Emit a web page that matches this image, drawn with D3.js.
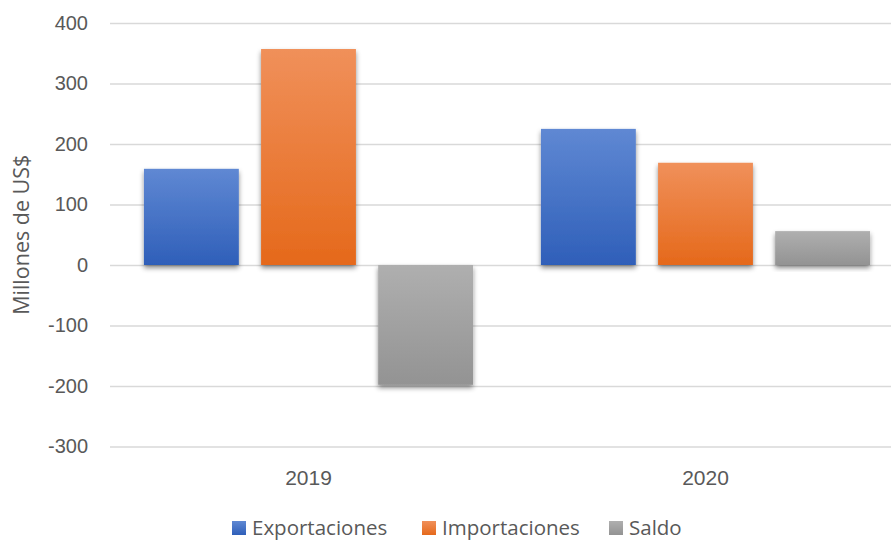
<!DOCTYPE html>
<html>
<head>
<meta charset="utf-8">
<script src="https://cdn.jsdelivr.net/npm/d3@7"></script>
<style>
  body { margin: 0; background: #fff; }
  svg { font-family: "Open Sans", sans-serif; }
</style>
</head>
<body>
<svg id="chart" width="891" height="540"></svg>
<script>
// data
const years = ['2019', '2020'];
const series = ['Exportaciones', 'Importaciones', 'Saldo'];
const exportaciones = [159, 225];
const importaciones = [357, 169];
const saldo = [-198, 56];
const yTicks = [-300, -200, -100, 0, 100, 200, 300, 400];

const values = [exportaciones, importaciones, saldo];
const data = years.map((y, i) => ({year: y, vals: series.map((s, j) => ({key: s, value: values[j][i]}))}));

let margin = {top: 23, left: 110};
let width = 794;
let height = 423.5;

const svg = d3.select('#chart');

// gradients + shadow
const defs = svg.append('defs');
const grads = [
  {id: 'g0', top: '#5f88d3', bottom: '#2f5fb9'},
  {id: 'g1', top: '#f0905a', bottom: '#e5691b'},
  {id: 'g2', top: '#afafaf', bottom: '#939393'}
];
grads.forEach(g => {
  let lg = defs.append('linearGradient').attr('id', g.id)
    .attr('x1', 0).attr('y1', 0).attr('x2', 0).attr('y2', 1);
  lg.append('stop').attr('offset', '0%').attr('stop-color', g.top);
  lg.append('stop').attr('offset', '100%').attr('stop-color', g.bottom);
});
defs.append('filter').attr('id', 'shadow')
  .attr('x', '-20%').attr('y', '-20%').attr('width', '140%').attr('height', '140%')
  .append('feDropShadow')
  .attr('dx', 0).attr('dy', 3).attr('stdDeviation', 2.5)
  .attr('flood-color', '#000').attr('flood-opacity', 0.45);

let chart = svg.append('g')
  .attr('transform', `translate(${margin.left}, ${margin.top})`);

let x0 = d3.scaleBand().domain(years).range([0, width]);
let x1 = d3.scaleBand().domain(series).range([0, x0.bandwidth()])
  .paddingInner(0.19).paddingOuter(0.29);
let y = d3.scaleLinear().domain([-300, 400]).range([height, 0]);
let color = d3.scaleOrdinal().domain(series).range(['url(#g0)', 'url(#g1)', 'url(#g2)']);

// gridlines
let yAxis = d3.axisLeft(y).tickValues(yTicks).tickFormat(d => String(d))
  .tickSize(-width).tickPadding(22);
let yG = chart.append('g').call(yAxis);
yG.select('.domain').remove();
yG.selectAll('.tick line').attr('stroke', '#d9d9d9').attr('stroke-width', 1.5);
yG.selectAll('.tick text').attr('fill', '#595959').style('font-size', '20px');

// x labels
let xAxis = d3.axisBottom(x0).tickSize(0).tickPadding(24);
let xG = chart.append('g').attr('transform', `translate(0, ${height})`).call(xAxis);
xG.select('.domain').remove();
xG.selectAll('.tick text').attr('fill', '#595959').style('font-size', '21px');

// bars
let groups = chart.selectAll('.year')
  .data(data)
  .enter()
    .append('g')
    .attr('transform', d => `translate(${x0(d.year)}, 0)`);

groups.selectAll('rect')
  .data(d => d.vals)
  .enter()
    .append('rect')
    .attr('x', d => x1(d.key))
    .attr('width', x1.bandwidth())
    .attr('y', d => y(Math.max(0, d.value)))
    .attr('height', d => Math.abs(y(d.value) - y(0)))
    .attr('fill', d => color(d.key))
    .attr('filter', 'url(#shadow)');

// y title
svg.append('text')
  .attr('transform', `translate(29, ${margin.top + y(50)}) rotate(-90)`)
  .attr('text-anchor', 'middle')
  .attr('fill', '#595959')
  .style('font-size', '21.5px')
  .text('Millones de US$');

// legend
let legendX = [232, 422, 609];
let legend = svg.append('g');
let items = legend.selectAll('g')
  .data(series)
  .enter()
    .append('g')
    .attr('transform', (d, i) => `translate(${legendX[i]}, 521)`);
items.append('rect')
  .attr('width', 14).attr('height', 14)
  .attr('fill', d => color(d));
items.append('text')
  .attr('x', 20).attr('y', 14)
  .attr('fill', '#595959')
  .style('font-size', '20.5px')
  .text(d => d);
</script>
</body>
</html>
